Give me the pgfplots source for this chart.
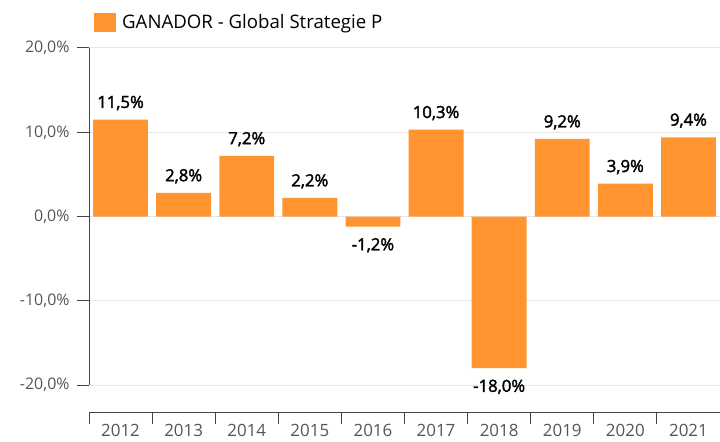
\documentclass[border=0pt]{standalone}
\usepackage{pgfplots}
\pgfplotsset{compat=1.18}
\usepackage{fontspec}
\setmainfont{Open Sans}
\newfontfamily\semib{Open Sans}[FakeBold=2]
\definecolor{barorange}{HTML}{FF9430}
\definecolor{ticktext}{HTML}{555555}
\definecolor{gridc}{HTML}{E6E6E6}
\definecolor{axisc}{HTML}{444444}
\begin{document}
\begin{tikzpicture}
\path[use as bounding box] (0,0) rectangle (720bp,442bp);
\begin{axis}[
  at={(89bp,30bp)}, anchor=south west,
  scale only axis, width=631bp, height=364bp,
  xmin=-0.5, xmax=9.5, ymin=-23.2, ymax=20,
  clip=false,
  axis x line*=bottom, axis y line*=left,
  y axis line style={draw=none},
  x axis line style={axisc, line width=1bp, -},
  tick align=outside,
  major tick length=12bp,
  every tick/.style={axisc, line width=1bp},
  xtick={-0.5,0.5,1.5,2.5,3.5,4.5,5.5,6.5,7.5,8.5,9.5},
  xticklabels={},
  extra x ticks={0,1,2,3,4,5,6,7,8,9},
  extra x tick labels={2012,2013,2014,2015,2016,2017,2018,2019,2020,2021},
  extra x tick style={major tick length=0pt, tick label style={yshift=-9bp, font=\fontsize{17}{20}\selectfont}},
  ytick={-20,-10,0,10,20},
  yticklabels={{-20,0\%},{-10,0\%},{0,0\%},{10,0\%},{20,0\%}},
  yticklabel style={xshift=-4bp},
  ymajorgrids,
  grid style={gridc, line width=1bp},
  tick label style={font=\fontsize{16}{19}\selectfont, text=ticktext},
  ybar, bar width=0.87, bar shift=0pt,
  point meta=explicit symbolic,
  legend style={draw=none, fill=none, at={(0.0079,1.0989)}, anchor=north west, inner sep=0pt,
    font=\fontsize{18.7}{22}\selectfont, text=black},
  legend cell align=left,
]
\addplot[ybar, fill=barorange, draw=none,
  nodes near coords, nodes near coords align=above,
  nodes near coords style={font=\fontsize{16.8}{20}\selectfont\semib, text=black, yshift=6bp},
  legend image code/.code={\fill[barorange] (0bp,-9.5bp) rectangle (22bp,9.5bp); \path (26bp,0bp);}]
  coordinates {
  (0,11.5) [{11,5\%}]
  (1,2.8) [{2,8\%}]
  (2,7.2) [{7,2\%}]
  (3,2.2) [{2,2\%}]
  (5,10.3) [{10,3\%}]
  (7,9.2) [{9,2\%}]
  (8,3.9) [{3,9\%}]
  (9,9.4) [{9,4\%}]
  };
\addlegendentry{GANADOR - Global Strategie P}
\addplot[ybar, fill=barorange, draw=none, forget plot,
  nodes near coords, nodes near coords align=below,
  nodes near coords style={font=\fontsize{16.8}{20}\selectfont\semib, text=black, yshift=-8bp}]
  coordinates {
  (4,-1.2) [{-1,2\%}]
  (6,-18.0) [{-18,0\%}]
  };
\draw[axisc, line width=1bp] (axis cs:-0.5,-20) -- (axis cs:-0.5,20);
\end{axis}
\end{tikzpicture}
\end{document}
